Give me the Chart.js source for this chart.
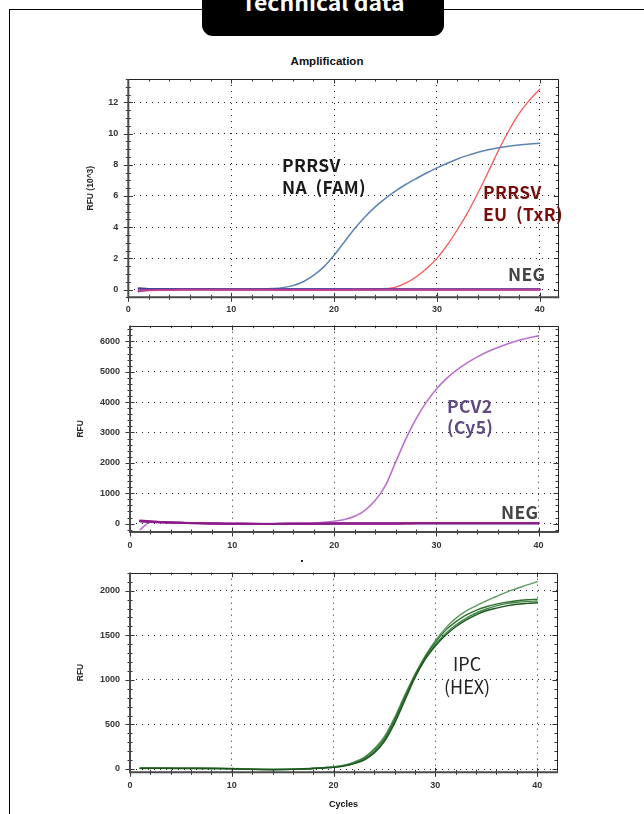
<!DOCTYPE html>
<html>
<head>
<meta charset="utf-8">
<script src="https://cdn.jsdelivr.net/npm/chart.js@4.4.0/dist/chart.umd.min.js"></script>
<style>
  html, body { margin: 0; padding: 0; background: #fff; }
  body { width: 644px; height: 814px; position: relative; overflow: hidden; font-family: "Liberation Sans", Arial, sans-serif; }
  .frame-top { position: absolute; left: 9px; top: 9px; width: 640px; height: 0; border-top: 1.5px solid #000; }
  .frame-left { position: absolute; left: 9px; top: 9px; width: 0; height: 810px; border-left: 1.5px solid #000; }
  .header { position: absolute; left: 202px; top: -12px; width: 242px; height: 48px; background: #000; border-radius: 0 0 11px 11px; }
  .header span { position: absolute; left: 0; right: 0; text-align: center; color: #fff;
    font-family: "Noto Sans CJK KR", "Noto Sans", sans-serif; font-weight: bold; font-size: 23px; line-height: 23px; }
  .title { position: absolute; left: 227px; width: 200px; top: 55px; text-align: center; font-weight: bold; font-size: 11.5px; color: #111; }
  canvas { position: absolute; left: 0; }
  .ann { position: absolute; white-space: pre; font-family: "Noto Sans CJK KR", "Noto Sans", sans-serif; font-weight: bold; font-size: 17.5px; line-height: 17px; letter-spacing: 0.3px; }
  .ipc { font-weight: normal; font-size: 18px; line-height: 18px; color: #222; letter-spacing: 0; }
  .dot { position: absolute; left: 301px; top: 560px; width: 2px; height: 2px; background: #222; }
</style>
</head>
<body>
<div class="frame-top"></div>
<div class="frame-left"></div>
<div class="header"><span style="top:2px">Technical data</span></div>
<div class="title">Amplification</div>

<canvas id="c1" width="644" height="250" style="top:70px"></canvas>
<canvas id="c2" width="644" height="240" style="top:320px"></canvas>
<canvas id="c3" width="644" height="254" style="top:560px"></canvas>
<div class="dot"></div>

<div class="ann" style="left:282px;top:156px;color:#1a1a1a">PRRSV</div>
<div class="ann" style="left:282px;top:178px;color:#1a1a1a">NA  (FAM)</div>
<div class="ann" style="left:483px;top:183px;color:#7a0b0b">PRRSV</div>
<div class="ann" style="left:483px;top:205px;color:#7a0b0b">EU  (TxR)</div>
<div class="ann" style="left:508px;top:265px;color:#444">NEG</div>
<div class="ann" style="left:447px;top:397px;color:#5f4a82">PCV2</div>
<div class="ann" style="left:447px;top:418px;color:#5f4a82">(Cy5)</div>
<div class="ann" style="left:501px;top:503px;color:#444">NEG</div>
<div class="ann ipc" style="left:453px;top:654px">IPC</div>
<div class="ann ipc" style="left:444px;top:677px">(HEX)</div>

<script>
// ---------- data ----------
const cycles = [1,2,3,4,5,6,7,8,9,10,11,12,13,14,15,16,17,18,19,20,21,22,23,24,25,26,27,28,29,30,31,32,33,34,35,36,37,38,39,40];

// Top panel (RFU x10^3)
const famNA = [0.02,0.02,0.02,0.01,0.01,0.01,0.01,0.01,0.01,0.01,0.01,0.02,0.03,0.06,0.12,0.25,0.5,0.9,1.45,2.2,3.05,3.9,4.65,5.3,5.85,6.33,6.75,7.12,7.47,7.8,8.1,8.37,8.6,8.8,8.96,9.09,9.19,9.27,9.33,9.38];
const txrEU = [0.01,0.01,0.01,0.01,0.01,0.01,0.01,0.01,0.01,0.01,0.01,0.01,0.01,0.01,0.01,0.01,0.01,0.01,0.01,0.01,0.01,0.01,0.02,0.03,0.05,0.16,0.42,0.82,1.35,2.0,2.85,3.85,4.95,6.2,7.55,8.95,10.2,11.3,12.15,12.85];
const negTop1 = [-0.12,-0.03,0.0,0.01,0.01,0.01,0.01,0.01,0.0,0.0,0.0,0.0,0.0,0.0,0.0,0.0,0.0,0.0,0.0,0.0,0.0,0.0,0.0,0.0,0.0,0.0,0.0,0.0,0.0,0.0,0.0,0.0,0.0,0.0,0.0,0.0,0.0,0.0,0.0,0.0];
const negTop2 = [0.08,0.04,0.03,0.02,0.02,0.02,0.02,0.01,0.01,0.01,0.01,0.01,0.01,0.01,0.01,0.01,0.01,0.01,0.01,0.01,0.01,0.01,0.01,0.01,0.01,0.01,0.01,0.01,0.01,0.01,0.01,0.01,0.02,0.02,0.02,0.02,0.02,0.02,0.02,0.02];
const negTop3 = [-0.06,-0.04,-0.03,-0.03,-0.02,-0.02,-0.02,-0.02,-0.02,-0.02,-0.02,-0.02,-0.02,-0.02,-0.03,-0.03,-0.03,-0.03,-0.03,-0.03,-0.03,-0.02,-0.02,-0.02,-0.02,-0.02,-0.02,-0.02,-0.01,-0.01,-0.01,-0.01,-0.01,-0.01,-0.01,-0.01,-0.01,-0.01,-0.01,-0.01];

// Middle panel (RFU)
const cy5PCV2 = [-200,45,40,32,25,18,12,8,5,3,2,2,3,4,6,9,13,20,45,80,135,240,440,760,1250,2020,2790,3450,3990,4430,4780,5060,5290,5490,5660,5800,5920,6025,6110,6180];
const negMid1 = [100,75,55,40,28,18,10,4,0,-4,-6,-8,-8,-8,-7,-5,-3,0,2,4,5,5,6,6,7,8,9,10,10,11,12,13,14,14,15,15,15,16,16,16];
const negMid2 = [70,60,48,36,26,17,10,5,1,-3,-6,-8,-9,-9,-8,-6,-4,-1,1,3,4,5,5,6,7,8,9,9,10,11,11,12,13,13,14,14,15,15,15,15];
const negMid3 = [85,50,42,35,27,19,12,6,2,-2,-5,-7,-8,-8,-7,-6,-4,-2,0,2,3,4,5,6,6,7,8,9,10,11,12,12,13,14,14,15,15,15,16,16];

// Bottom panel (RFU)
const hexIPC1 = [12,12,11,10,10,9,8,8,7,5,2,-2,-4,-5,-4,-2,2,8,15,24,42,78,132,228,365,580,830,1065,1270,1440,1580,1690,1770,1830,1885,1935,1985,2025,2065,2100];
const hexIPC2 = [8,9,8,8,7,7,6,6,5,3,0,-3,-5,-6,-5,-3,1,6,14,20,35,64,110,195,330,545,800,1050,1255,1420,1555,1650,1725,1780,1820,1850,1872,1888,1898,1905];
const hexIPC3 = [10,10,10,9,9,8,8,7,6,4,1,-2,-4,-5,-4,-2,2,7,16,23,40,72,125,218,352,565,815,1045,1240,1395,1520,1615,1690,1750,1795,1830,1855,1870,1880,1885];
const hexIPC4 = [6,7,7,6,6,6,5,5,4,2,-1,-4,-6,-7,-6,-4,0,5,12,18,32,60,100,180,310,515,770,1025,1230,1380,1500,1595,1670,1730,1775,1805,1830,1848,1858,1865];

// Tick labels
const xTickValues = [0,10,20,30,40];
const yTicksTop = [0,2,4,6,8,10,12];
const yTicksMid = [0,1000,2000,3000,4000,5000,6000];
const yTicksBot = [0,500,1000,1500,2000];

// ---------- helpers ----------
const pts = vals => cycles.map((c, i) => ({x: c, y: vals[i]}));
const tickFont = {family: "'Liberation Sans', Arial, sans-serif", weight: 'bold', size: 9};

const frameDeco = {
  id: 'frameDeco',
  afterDraw(chart, args, o) {
    const {ctx, chartArea: a, scales: {x, y}} = chart;
    ctx.save();
    ctx.beginPath();
    ctx.strokeStyle = '#333';
    ctx.lineWidth = 1;
    const n1 = Math.ceil(x.min / o.xStep - 1e-9);
    for (let i = n1; i * o.xStep <= x.max + 1e-9; i++) {
      const v = i * o.xStep;
      const px = Math.round(x.getPixelForValue(v)) + 0.5;
      const major = Math.abs(v / o.xMajor - Math.round(v / o.xMajor)) < 1e-6;
      const L = major ? 4.5 : 2.5;
      ctx.moveTo(px, a.bottom - L); ctx.lineTo(px, a.bottom + L);
      ctx.moveTo(px, a.top); ctx.lineTo(px, a.top + L);
    }
    const n2 = Math.ceil(y.min / o.yStep - 1e-9);
    for (let i = n2; i * o.yStep <= y.max + 1e-9; i++) {
      const v = i * o.yStep;
      const py = Math.round(y.getPixelForValue(v)) + 0.5;
      const major = Math.abs(v / o.yMajor - Math.round(v / o.yMajor)) < 1e-6;
      const L = major ? 4.5 : 2.5;
      ctx.moveTo(a.left - L, py); ctx.lineTo(a.left + L, py);
      ctx.moveTo(a.right - L, py); ctx.lineTo(a.right, py);
    }
    ctx.stroke();
    ctx.beginPath();
    ctx.strokeStyle = '#222';
    ctx.lineWidth = 1;
    ctx.moveTo(a.left, Math.round(a.top) + 0.5);
    ctx.lineTo(Math.round(a.right) + 0.5, Math.round(a.top) + 0.5);
    ctx.lineTo(Math.round(a.right) + 0.5, a.bottom);
    ctx.stroke();
    ctx.beginPath();
    ctx.strokeStyle = '#4a4a4a';
    ctx.lineWidth = 2;
    ctx.moveTo(a.left, a.top);
    ctx.lineTo(a.left, a.bottom);
    ctx.lineTo(a.right + 1, a.bottom);
    ctx.stroke();
    ctx.restore();
  }
};

function makeChart(id, cfg) {
  return new Chart(document.getElementById(id), {
    type: 'line',
    data: {datasets: cfg.datasets},
    plugins: [frameDeco],
    options: {
      responsive: false,
      maintainAspectRatio: false,
      animation: false,
      events: [],
      layout: {padding: cfg.padding},
      elements: {point: {radius: 0}, line: {cubicInterpolationMode: 'monotone', borderCapStyle: 'round', borderJoinStyle: 'round'}},
      plugins: {
        legend: {display: false},
        tooltip: {enabled: false},
        frameDeco: cfg.deco
      },
      scales: {
        x: {
          type: 'linear', min: 0, max: cfg.xMax,
          afterBuildTicks: s => { s.ticks = xTickValues.map(v => ({value: v})); },
          afterFit: s => { s.height = cfg.xHeight; s.paddingLeft = 0; s.paddingRight = 0; s.paddingTop = 0; s.paddingBottom = 0; },
          ticks: {font: tickFont, color: '#333', padding: cfg.xPad, maxRotation: 0, autoSkip: false, callback: v => String(v)},
          grid: {color: '#222', lineWidth: 1, drawTicks: false},
          border: {display: false, dash: [1, 5]},
          title: cfg.xTitle ? {display: true, text: cfg.xTitle, color: '#111',
            font: {family: "'Liberation Sans', Arial, sans-serif", weight: 'bold', size: 9}, padding: {top: 0, bottom: cfg.xTitlePad}} : {display: false}
        },
        y: {
          type: 'linear', min: cfg.yMin, max: cfg.yMax,
          afterBuildTicks: s => { s.ticks = cfg.yTicks.map(v => ({value: v})); },
          afterFit: s => { s.width = cfg.yWidth; s.paddingLeft = 0; s.paddingRight = 0; s.paddingTop = 0; s.paddingBottom = 0; },
          ticks: {font: tickFont, color: '#333', padding: 10, callback: v => String(v)},
          grid: {color: '#222', lineWidth: 1, drawTicks: false},
          border: {display: false, dash: [1, 5]},
          title: {display: true, text: cfg.yTitle, color: '#222',
            font: {family: "'Liberation Sans', Arial, sans-serif", weight: 'bold', size: 8.5}, padding: {top: cfg.yTitlePad, bottom: 0}}
        }
      }
    }
  });
}

const line = (vals, color, width) => ({data: pts(vals), borderColor: color, backgroundColor: color, borderWidth: width, fill: false});

makeChart('c1', {
  datasets: [
    line(negTop3, '#c23f90', 2),
    line(negTop2, '#3b3f9e', 2),
    line(negTop1, '#86308f', 2),
    line(famNA, '#5b84b3', 1.5),
    line(txrEU, '#ff5555', 1.3)
  ],
  padding: {left: 0, right: 85.7, top: 9, bottom: 0},
  xMax: 41.8, xHeight: 22.7, xPad: 7,
  yMin: -0.5, yMax: 13.5, yTicks: yTicksTop, yWidth: 128.3,
  yTitle: 'RFU (10^3)', yTitlePad: 86,
  deco: {xStep: 2, xMajor: 10, yStep: 0.5, yMajor: 2}
});

makeChart('c2', {
  datasets: [
    line(negMid1, '#8a1c8a', 2),
    line(negMid2, '#95299a', 2),
    line(negMid3, '#7f1880', 2),
    line(cy5PCV2, '#bb72cc', 1.6)
  ],
  padding: {left: 0, right: 86, top: 5.7, bottom: 0},
  xMax: 41.9, xHeight: 28, xPad: 8,
  yMin: -275, yMax: 6515, yTicks: yTicksMid, yWidth: 130,
  yTitle: 'RFU', yTitlePad: 75.5,
  deco: {xStep: 2, xMajor: 10, yStep: 200, yMajor: 1000}
});

makeChart('c3', {
  datasets: [
    line(hexIPC4, '#1d561d', 1.4),
    line(hexIPC2, '#2f6f2f', 1.4),
    line(hexIPC3, '#43874a', 1.4),
    line(hexIPC1, '#5f9a62', 1.4)
  ],
  padding: {left: 0, right: 87, top: 12.7, bottom: 0},
  xMax: 41.95, xHeight: 41.7, xPad: 8,
  xTitle: 'Cycles', xTitlePad: 4,
  yMin: -37, yMax: 2202, yTicks: yTicksBot, yWidth: 130,
  yTitle: 'RFU', yTitlePad: 75.5,
  deco: {xStep: 2, xMajor: 10, yStep: 100, yMajor: 500}
});
</script>
</body>
</html>
